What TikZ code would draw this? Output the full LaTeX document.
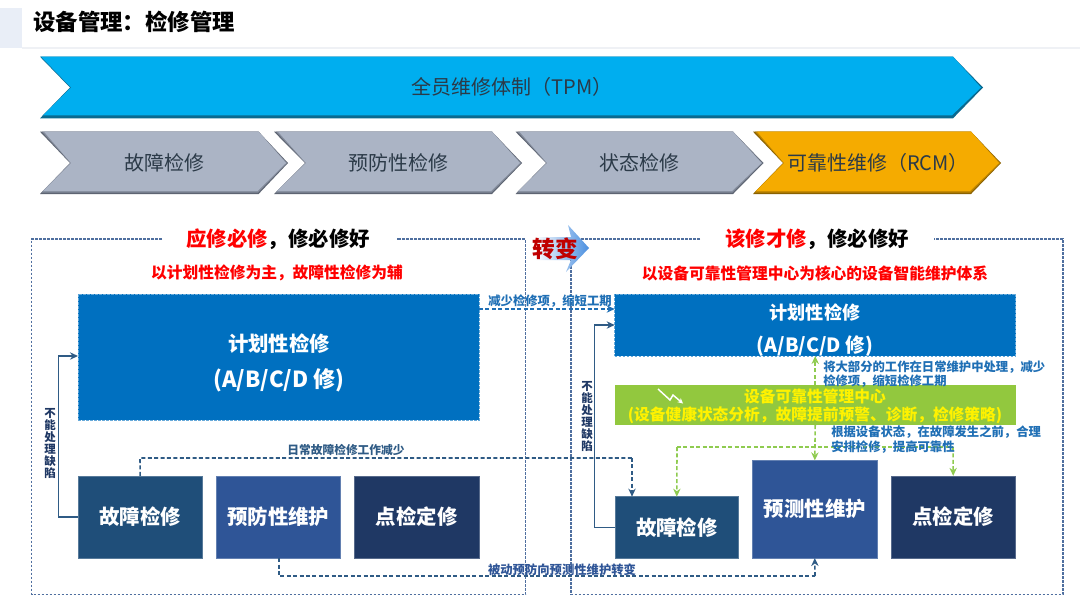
\documentclass[tikz,border=0pt]{standalone}
\usepackage{fontspec}
\setmainfont{Noto Sans CJK SC}
\usetikzlibrary{arrows.meta,calc}
\definecolor{framec}{HTML}{4F6F9F}
\definecolor{planblue}{HTML}{0070C0}
\definecolor{boxa}{HTML}{1F4E79}
\definecolor{boxb}{HTML}{2F5597}
\definecolor{boxc}{HTML}{1F3864}
\definecolor{linkc}{HTML}{2F5B85}
\definecolor{labelblue}{HTML}{1F6FB5}
\definecolor{greenc}{HTML}{92C83E}
\definecolor{greenl}{HTML}{8FCB50}
\definecolor{darktext}{HTML}{2B3A48}
\definecolor{headbar}{HTML}{E9EEF7}
\definecolor{headrule}{HTML}{EFF1F5}
\definecolor{skydark}{HTML}{0A6A90}
\definecolor{sky}{HTML}{00AEEF}
\definecolor{greyfill}{HTML}{ABB4C5}
\definecolor{greydark}{HTML}{5D6472}
\definecolor{orangefill}{HTML}{F5AB00}
\definecolor{orangedark}{HTML}{8A6100}
\definecolor{shiftblue}{HTML}{4A8FE0}
\definecolor{shiftred}{HTML}{C00000}
\newcommand{\chevshape}[9]{%
  \fill[#8] (#1,#5) -- (#3,#5) -- (#4,#9) -- (#3,#6) -- (#1,#6) -- (#2,#9) -- cycle;
  \fill[#8!50!#7] ({#1+2},#5) -- (#3,#5) -- ({#4-1},#9) -- ({#3-.5},{#6-1.5}) -- ({#1+1.5},{#6-1.5}) -- ({#2+.5},#9) -- cycle;
  \fill[#7] ({#1+4},#5) -- (#3,#5) -- ({#4-2},#9) -- ({#3-1},{#6-3}) -- ({#1+3},{#6-3}) -- ({#2+1},#9) -- cycle;
}
\tikzset{
  wh/.style 2 args={minimum width=#1*0.75pt,minimum height=#2*0.75pt},
  plainbox/.style={rectangle,inner sep=0pt,outer sep=0pt,text=white,font=\bfseries\fontsize{15.3}{18}\selectfont},
  lowbox/.style={plainbox,draw=#1!75!white,line width=0.5pt,fill=#1},
  planbox/.style={plainbox,fill=planblue,draw=planblue!60!white,line width=0.5pt,dash pattern=on 2pt off 1pt},
  boxtext/.style={inner sep=0pt,text=white,font=\bfseries\fontsize{15.3}{18}\selectfont},
  chevtext/.style={inner sep=0pt,text=darktext,font=\fontsize{15}{18}\selectfont},
  frameline/.style={draw=framec,line width=0.8pt,dash pattern=on 2pt off 1pt},
  solidlink/.style={draw=linkc,line width=1.2pt,-{Stealth[length=6pt,width=5.5pt]}},
  dashlink/.style={draw=linkc,line width=1.2pt,dash pattern=on 3pt off 1.8pt},
  dashtip/.style={-{Stealth[length=6pt,width=5.5pt]}},
  greenlink/.style={draw=greenl,line width=1.2pt,dash pattern=on 3pt off 1.8pt},
  headline/.style={inner sep=0pt,font=\bfseries\fontsize{15.3}{18}\selectfont},
  subline/.style={inner sep=0pt,text=red,font=\bfseries\fontsize{11.8}{14}\selectfont},
  smalllabel/.style={inner sep=0pt,font=\bfseries\fontsize{9.25}{11}\selectfont},
  vlabel/.style={inner sep=0pt,align=center,text=boxc,font=\bfseries\fontsize{8.6}{9}\selectfont},
  yellowtext/.style={inner sep=0pt,text=yellow,font=\bfseries\fontsize{11.8}{14}\selectfont},
}
\begin{document}
\begin{tikzpicture}[x=0.75pt,y=-0.75pt]
\useasboundingbox (0,0) rectangle (1080,608);
\fill[white] (0,0) rectangle (1080,608);
% header
\fill[headbar] (0,8) rectangle (22,48);
\draw[headrule,line width=0.8pt] (22,48) -- (1080,48);
\node[inner sep=0pt,anchor=west,text=black,font=\bfseries\fontsize{16.8}{20}\selectfont] (title) at (33,22) {设备管理：检修管理};
% chevrons
\fill[skydark] (40,56.7) -- (953,56.7) -- (983,87.5) -- (953,118.3) -- (40,118.3) -- (70,87.5) -- cycle;
\fill[sky] (41,56.7) -- (953,56.7) -- (981,87.5) -- (952,115.3) -- (43,115.3) -- (71,87.5) -- cycle;
\chevshape{40}{70}{258.6}{288}{131.7}{194}{greyfill}{greydark}{163}
\chevshape{274}{305}{492}{522}{131.7}{194}{greyfill}{greydark}{163}
\chevshape{515.5}{546}{733}{763.5}{131.7}{194}{greyfill}{greydark}{163}
\chevshape{753}{783}{971}{1001}{131.7}{194}{orangefill}{orangedark}{163}
\node[chevtext] (tpm) at (512,87) {全员维修体制（TPM）};
\node[chevtext] (ca) at (164,163) {故障检修};
\node[chevtext] (cb) at (398,163) {预防性检修};
\node[chevtext] (cc) at (639,163) {状态检修};
\node[chevtext] (cd) at (878,163) {可靠性维修（RCM）};
% frames
\draw[frameline] (162,239) -- (31.5,239) -- (31.5,594.5) -- (525.5,594.5) -- (525.5,239) -- (396.5,239);
\draw[frameline] (700,239) -- (571,239) -- (571,594.5) -- (1063,594.5) -- (1063,239) -- (934,239);
% transition arrow
\shade[left color=white,right color=shiftblue] (535,237) -- (571,237) -- (568,225) -- (589,248) -- (566,272) -- (571,260) -- (535,260) -- cycle;
\node[inner sep=0pt,text=shiftred,font=\bfseries\fontsize{17}{20}\selectfont] (shift) at (555,249) {转变};
% headlines
\node[headline] (hl) at (278,239) {\textcolor{red}{应修必修}，修必修好};
\node[subline] (sl) at (277,273) {以计划性检修为主，故障性检修为辅};
\node[headline] (hr) at (817,239) {\textcolor{red}{该修才修}，修必修好};
\node[subline] (sr) at (815,273) {以设备可靠性管理中心为核心的设备智能维护体系};
% left boxes
\node[planbox,wh={401}{126}] (lplan) at (278.5,357) {};
\node[boxtext] (lplana) at (279,344) {计划性检修};
\node[boxtext,font=\bfseries\fontsize{16.6}{20}\selectfont] (lplanb) at (279,380) {(A/B/C/D 修)};
\node[lowbox=boxa,wh={124.5}{82.3}] (lfault) at (140.2,517) {故障检修};
\node[lowbox=boxb,wh={124.5}{82.3}] (lprev) at (278.2,517) {预防性维护};
\node[lowbox=boxc,wh={124.5}{82.3}] (lspot) at (416.7,517) {点检定修};
% right boxes
\node[planbox,wh={401}{62}] (rplan) at (815.2,325) {};
\node[boxtext,font=\bfseries\fontsize{13.6}{18}\selectfont] (rplana) at (815,313) {计划性检修};
\node[boxtext,font=\bfseries\fontsize{14.7}{18}\selectfont] (rplanb) at (815,346) {(A/B/C/D 修)};
\node[plainbox,fill=greenc,wh={401}{40}] (center) at (815.2,405) {};
\node[yellowtext] (centa) at (815,396) {设备可靠性管理中心};
\node[yellowtext] (centb) at (815,415) {(设备健康状态分析，故障提前预警、诊断，检修策略)};
\node[lowbox=boxa,wh={123.5}{61.3}] (rfault) at (676.8,527.3) {故障检修};
\node[lowbox=boxb,wh={124.3}{97.7}] (rpred) at (814.8,509.2) {预测性维护};
\node[lowbox=boxc,wh={124.5}{82.3}] (rspot) at (953.2,517) {点检定修};
% trend icon on the green band
\draw[white,line width=1.1pt,-{Stealth[length=4pt,width=4pt]}] (658,389) -- (670,400) -- (673,395) -- (683,403.5);
% left connectors
\coordinate (lup) at (58.5,356);
\draw[solidlink] (lfault.west) -| (lup) -- (lup -| lplan.west);
\coordinate (topy) at (140,458);
\coordinate (rfx) at (632,458);
\draw[dashlink] (lfault.north) -- (topy) -- (rfx);
\draw[dashlink,dashtip] (rfx) -- (rfx |- rfault.north);
\coordinate (boty) at (279,576);
\coordinate (rpx) at (815,576);
\draw[dashlink] (lprev.south -| boty) -- (boty) -- (rpx);
\draw[dashlink,dashtip] (rpx) -- (rpred.south);
\coordinate (la) at (479,309);
\draw[draw=labelblue,line width=1.2pt,dash pattern=on 3pt off 1.8pt,dashtip] (la -| lplan.east) -- (la -| rplan.west);
% right connectors
\coordinate (rup) at (594.5,325);
\draw[solidlink] (rfault.west) -| (rup) -- (rplan.west);
\draw[greenlink,dashtip] (center.north) -- (rplan.south);
\draw[greenlink,dashtip] (center.south) -- (rpred.north);
\coordinate (gl) at (677,447);
\coordinate (gr) at (953,447);
\draw[greenlink,dashtip] (gl) -- (rfault.north);
\draw[greenlink] (gl) -- (gr);
\draw[greenlink,dashtip] (gr) -- (rspot.north);
% labels
\node[vlabel] (vl) at (50,443) {不\\能\\处\\理\\缺\\陷};
\node[vlabel] (vr) at (587,416) {不\\能\\处\\理\\缺\\陷};
\node[smalllabel,text=linkc,font=\bfseries\fontsize{8.8}{11}\selectfont] (l1) at (346,450) {日常故障检修工作减少};
\node[smalllabel,text=boxb] (l2) at (562,570) {被动预防向预测性维护转变};
\node[smalllabel,text=labelblue] (l3) at (550,301) {减少检修项，缩短工期};
\node[smalllabel,text=labelblue,anchor=west] (l4) at (823,367) {将大部分的工作在日常维护中处理，减少};
\node[smalllabel,text=labelblue,anchor=west] (l5) at (823,381) {检修项，缩短检修工期};
\node[smalllabel,text=labelblue,anchor=west] (l6) at (831,432) {根据设备状态，在故障发生之前，合理};
\node[smalllabel,text=labelblue,anchor=west] (l7) at (831,447) {安排检修，提高可靠性};
\end{tikzpicture}
\end{document}
